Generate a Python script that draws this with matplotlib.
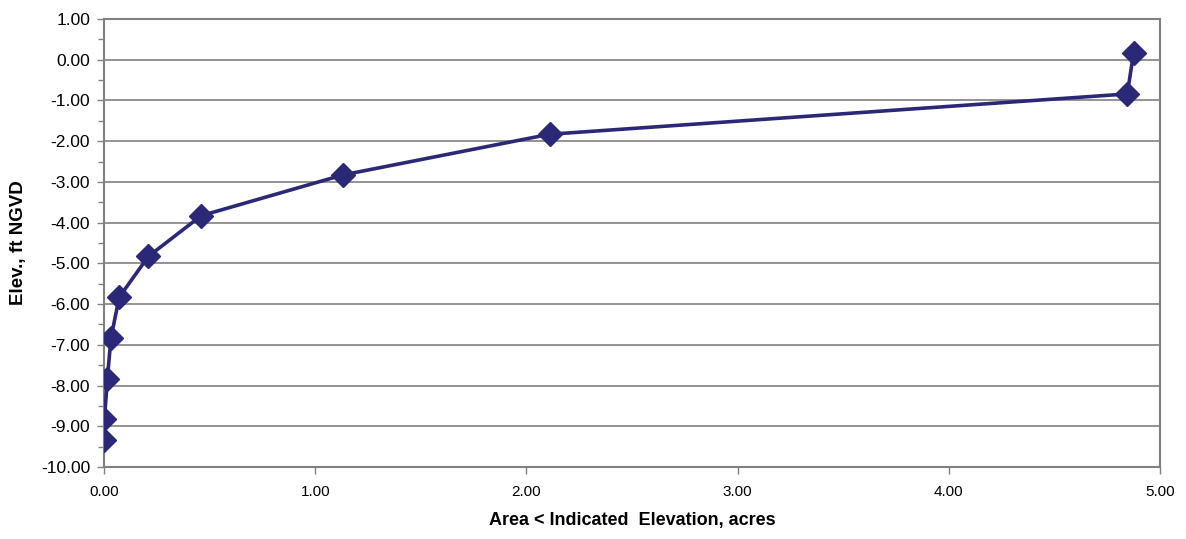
import matplotlib
matplotlib.use("Agg")
import matplotlib.pyplot as plt
from matplotlib.ticker import MultipleLocator

plt.rcParams['font.family'] = ['Liberation Sans', 'DejaVu Sans']

# stage-area curve
area = [0.00, 0.002, 0.016, 0.033, 0.072, 0.21, 0.46, 1.13, 2.11, 4.845, 4.875]
elev = [-9.34, -8.83, -7.83, -6.83, -5.83, -4.83, -3.83, -2.83, -1.83, -0.84, 0.17]

x_ticks = [0, 1, 2, 3, 4, 5]
y_ticks = list(range(-10, 2))

navy = "#2c2878"
grey = "#808080"

fig = plt.figure(figsize=(11.86, 5.39), dpi=100)
ax = fig.add_axes([104/1186, 1 - 467/539, (1160 - 104)/1186, (467 - 19)/539])

ax.plot(area, elev, color=navy, lw=2.6, marker="D", markersize=12,
        markerfacecolor=navy, markeredgecolor=navy, zorder=3)

ax.set_xlim(0, 5)
ax.set_ylim(-10, 1)
ax.set_xticks(x_ticks)
ax.set_xticklabels(["%.2f" % v for v in x_ticks], fontsize=11)
ax.set_yticks(y_ticks)
ax.set_yticklabels(["%.2f" % v for v in y_ticks], fontsize=12.5)
ax.yaxis.set_minor_locator(MultipleLocator(0.5))

ax.grid(axis="y", which="major", color=grey, lw=1.2)
for s in ax.spines.values():
    s.set_color(grey)
    s.set_linewidth(1.5)

ax.tick_params(axis="both", which="both", direction="out", color=grey, width=1)
ax.tick_params(axis="both", which="major", length=5)
ax.tick_params(axis="y", which="minor", length=4)
ax.tick_params(axis="y", pad=5)
ax.tick_params(axis="x", pad=8)

ax.set_ylabel("Elev., ft NGVD", fontsize=13.5, fontweight="bold", labelpad=10)
ax.set_xlabel("Area < Indicated  Elevation, acres", fontsize=13, fontweight="bold",
              labelpad=9)

fig.savefig("out.png", dpi=100)
